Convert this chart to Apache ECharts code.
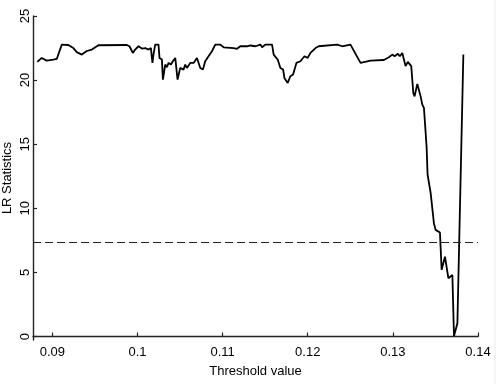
<!DOCTYPE html>
<html>
<head>
<meta charset="utf-8">
<script src="https://cdn.jsdelivr.net/npm/echarts@6/dist/echarts.min.js"></script>
<style>
html,body{margin:0;padding:0;background:#fff;}
#c{width:498px;height:384px;}
</style>
</head>
<body>
<div id="c"></div>
<script>
// Threshold values (x)
var thresholds = [
  0.08824, 0.08875, 0.08934, 0.09012, 0.09052, 0.09111, 0.09188, 0.09247, 0.09287, 0.09346,
  0.09405, 0.09464, 0.09541, 0.09875, 0.09894, 0.09906, 0.09946, 0.09973, 0.10012, 0.10052,
  0.10091, 0.10129, 0.10158, 0.10176, 0.10188, 0.10208, 0.10247, 0.10259, 0.10287, 0.10299,
  0.10326, 0.10346, 0.10365, 0.10393, 0.10416, 0.10444, 0.10471, 0.10502, 0.10522, 0.10541,
  0.10561, 0.10581, 0.10620, 0.10659, 0.10699, 0.10738, 0.10769, 0.10796, 0.10835, 0.10875,
  0.10914, 0.10973, 0.11012, 0.11129, 0.11169, 0.11208, 0.11287, 0.11326, 0.11385, 0.11444,
  0.11464, 0.11502, 0.11581, 0.11600, 0.11647, 0.11679, 0.11711, 0.11726, 0.11765, 0.11796,
  0.11828, 0.11867, 0.11914, 0.11961, 0.12000, 0.12032, 0.12091, 0.12129, 0.12346, 0.12405,
  0.12502, 0.12620, 0.12738, 0.12894, 0.12953, 0.12993, 0.13020, 0.13059, 0.13082, 0.13111,
  0.13129, 0.13149, 0.13176, 0.13216, 0.13240, 0.13255, 0.13287, 0.13326, 0.13346, 0.13358,
  0.13365, 0.13396, 0.13408, 0.13444, 0.13482, 0.13502, 0.13553, 0.13573, 0.13612, 0.13652,
  0.13699, 0.13718, 0.13758, 0.13828
];
// LR statistics (y)
var lrStats = [
  21.42, 21.73, 21.52, 21.60, 21.65, 22.77, 22.74, 22.50, 22.18, 21.99,
  22.27, 22.38, 22.72, 22.74, 22.83, 22.64, 22.12, 22.38, 22.64, 22.46,
  22.50, 22.38, 22.50, 21.34, 21.99, 22.77, 22.77, 21.73, 21.60, 20.04,
  21.21, 21.00, 21.34, 21.21, 21.47, 21.73, 20.04, 20.95, 21.08, 20.82,
  21.21, 20.95, 21.34, 21.34, 21.73, 20.95, 20.82, 21.47, 21.86, 22.25,
  22.77, 22.77, 22.56, 22.50, 22.44, 22.64, 22.64, 22.70, 22.64, 22.77,
  22.56, 22.77, 22.77, 21.99, 21.60, 20.95, 20.82, 20.17, 19.78, 20.30,
  20.43, 21.34, 21.47, 21.86, 21.73, 22.12, 22.50, 22.64, 22.77, 22.64,
  22.77, 21.34, 21.52, 21.57, 21.78, 21.99, 21.86, 22.05, 21.86, 22.12,
  22.12, 21.09, 21.42, 21.09, 19.00, 18.73, 19.70, 18.73, 18.09, 18.20,
  17.83, 14.83, 12.62, 11.19, 8.84, 8.32, 8.11, 5.20, 6.23, 4.55,
  4.80, 0.04, 1.04, 21.99
];
var criticalValue = 7.33;
var xTicks = [0.09, 0.10, 0.11, 0.12, 0.13, 0.14];
var yTicks = [0, 5, 10, 15, 20, 25];

var points = thresholds.map(function (t, i) { return [t, lrStats[i]]; });

var font = 'Liberation Sans, Arial, sans-serif';
var chart = echarts.init(document.getElementById('c'), null, {renderer: 'canvas'});
chart.setOption({
  animation: false,
  backgroundColor: '#fff',
  grid: {left: 33, right: 20, top: 16, bottom: 44, containLabel: false, outerBoundsMode: 'none'},
  xAxis: {
    type: 'value',
    min: 0.08773,
    max: 0.14,
    name: 'Threshold value',
    nameLocation: 'middle',
    nameGap: 25,
    nameMoveOverlap: false,
    nameTextStyle: {color: '#000', fontSize: 13, fontFamily: font},
    axisLine: {lineStyle: {color: '#222', width: 1.4}},
    axisTick: {inside: true, length: 4, customValues: xTicks, lineStyle: {color: '#222', width: 1.2}},
    axisLabel: {customValues: xTicks, color: '#000', fontSize: 13, fontFamily: font, margin: 6,
      formatter: function (v) { return String(+v.toFixed(2)); }},
    splitLine: {show: false}
  },
  yAxis: {
    type: 'value',
    min: -0.27,
    max: 25,
    name: 'LR Statistics',
    nameLocation: 'middle',
    nameGap: 19,
    nameMoveOverlap: false,
    nameTextStyle: {color: '#000', fontSize: 13, fontFamily: font},
    axisLine: {show: true, lineStyle: {color: '#222', width: 1.4}},
    axisTick: {show: true, inside: true, length: 4, customValues: yTicks, lineStyle: {color: '#222', width: 1.2}},
    axisLabel: {customValues: yTicks, rotate: 90, color: '#000', fontSize: 13, fontFamily: font, margin: 1},
    splitLine: {show: false}
  },
  series: [{
    type: 'line',
    data: points,
    showSymbol: false,
    symbol: 'none',
    lineStyle: {color: '#000', width: 1.8},
    markLine: {
      silent: true,
      symbol: 'none',
      label: {show: false},
      lineStyle: {color: '#222', type: [8, 4], width: 1.2},
      data: [{yAxis: criticalValue}]
    }
  }],
  graphic: [{
    type: 'line',
    shape: {x1: 495, y1: 0, x2: 495, y2: 384},
    style: {stroke: '#ececec', lineWidth: 1}
  }]
});
</script>
</body>
</html>
